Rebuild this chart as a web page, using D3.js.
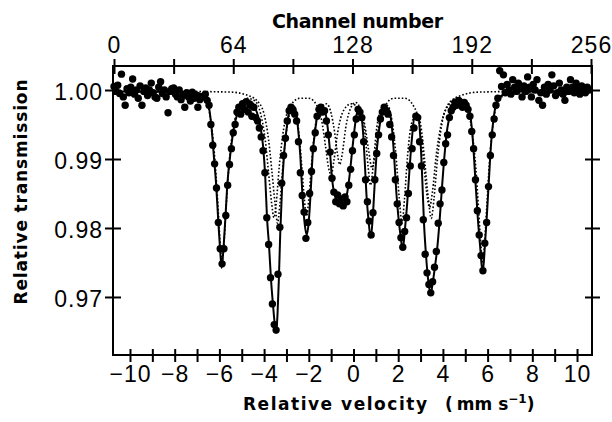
<!DOCTYPE html>
<html>
<head>
<meta charset="utf-8">
<script src="https://cdn.jsdelivr.net/npm/d3@7"></script>
<style>
  html, body { margin: 0; padding: 0; background: #fff; }
  svg { display: block; }
  .tick text { font-family: "Liberation Sans", Arial, sans-serif; font-size: 23px; fill: #000; letter-spacing: 1px; }
  .title { font-family: "DejaVu Sans", sans-serif; font-weight: bold; fill: #000; }
</style>
</head>
<body>
<div id="chart"></div>
<script>
// Relative transmission per channel (0..255)
const transmission = [
  1.0005, 0.9998, 1.0007, 0.9995, 1.0023, 0.9990, 0.9978, 1.0002, 0.9996, 1.0004, 1.0016, 0.9994, 1.0000, 0.9988, 1.0006, 0.9978,
  0.9998, 1.0003, 0.9992, 1.0000, 1.0010, 0.9996, 0.9990, 0.9988, 1.0004, 1.0012, 0.9995, 1.0000, 0.9990, 0.9967, 0.9998, 1.0002,
  1.0003, 0.9994, 0.9990, 1.0000, 0.9986, 0.9992, 0.9975, 0.9996, 0.9990, 0.9984, 0.9997, 0.9988, 0.9992, 0.9975, 0.9986, 0.9990,
  0.9990, 0.9994, 0.9985, 0.9978, 0.9950, 0.9920, 0.9893, 0.9858, 0.9808, 0.9770, 0.9748, 0.9770, 0.9818, 0.9862, 0.9892, 0.9915,
  0.9938, 0.9950, 0.9968, 0.9975, 0.9965, 0.9980, 0.9972, 0.9983, 0.9968, 0.9978, 0.9962, 0.9975, 0.9960, 0.9955, 0.9945, 0.9932,
  0.9912, 0.9880, 0.9815, 0.9776, 0.9728, 0.9690, 0.9660, 0.9652, 0.9733, 0.9801, 0.9865, 0.9905, 0.9930, 0.9955, 0.9970, 0.9975,
  0.9972, 0.9965, 0.9955, 0.9925, 0.9880, 0.9847, 0.9823, 0.9785, 0.9808, 0.9850, 0.9882, 0.9915, 0.9938, 0.9962, 0.9972, 0.9975,
  0.9968, 0.9970, 0.9955, 0.9935, 0.9910, 0.9872, 0.9852, 0.9838, 0.9848, 0.9835, 0.9842, 0.9832, 0.9845, 0.9838, 0.9862, 0.9885,
  0.9912, 0.9935, 0.9958, 0.9972, 0.9968, 0.9960, 0.9925, 0.9870, 0.9838, 0.9810, 0.9790, 0.9822, 0.9870, 0.9908, 0.9935, 0.9958,
  0.9968, 0.9975, 0.9970, 0.9965, 0.9950, 0.9932, 0.9905, 0.9870, 0.9835, 0.9808, 0.9786, 0.9772, 0.9795, 0.9815, 0.9850, 0.9890,
  0.9915, 0.9945, 0.9962, 0.9960, 0.9925, 0.9890, 0.9812, 0.9762, 0.9735, 0.9718, 0.9706, 0.9722, 0.9743, 0.9766, 0.9807, 0.9835,
  0.9855, 0.9895, 0.9922, 0.9935, 0.9960, 0.9970, 0.9975, 0.9982, 0.9978, 0.9985, 0.9980, 0.9975, 0.9982, 0.9978, 0.9972, 0.9962,
  0.9940, 0.9915, 0.9870, 0.9825, 0.9790, 0.9760, 0.9738, 0.9778, 0.9808, 0.9860, 0.9905, 0.9935, 0.9958, 0.9978, 0.9988, 1.0028,
  1.0005, 1.0022, 0.9996, 1.0008, 1.0000, 0.9994, 1.0015, 1.0004, 0.9998, 1.0010, 1.0002, 0.9990, 1.0006, 0.9998, 1.0019, 1.0004,
  0.9990, 1.0008, 1.0000, 1.0015, 0.9985, 0.9996, 0.9978, 1.0004, 0.9994, 1.0008, 1.0000, 1.0022, 1.0006, 0.9992, 0.9996, 1.0010,
  1.0000, 0.9994, 0.9985, 1.0004, 0.9998, 1.0015, 1.0004, 0.9996, 1.0010, 1.0002, 0.9994, 1.0006, 0.9998, 0.9996, 1.0004, 1.0000
];

// Fitted total spectrum, [velocity, transmission]
const fitTotal = [
  [-10.76, 0.9998], [-7.2, 0.9997], [-6.8, 0.9994], [-6.6, 0.9988], [-6.45, 0.9972], [-6.35, 0.9945],
  [-6.25, 0.9905], [-6.15, 0.9865], [-6.05, 0.9810], [-5.96, 0.9765], [-5.9, 0.9742], [-5.83, 0.9765],
  [-5.74, 0.9810], [-5.64, 0.9865], [-5.5, 0.9910], [-5.35, 0.9945], [-5.15, 0.9970], [-4.9, 0.9982],
  [-4.65, 0.9984], [-4.42, 0.9976], [-4.22, 0.9955], [-4.05, 0.9920], [-3.95, 0.9875], [-3.87, 0.9815],
  [-3.78, 0.9775], [-3.69, 0.9725], [-3.6, 0.9688], [-3.52, 0.9660], [-3.46, 0.9648], [-3.4, 0.9675],
  [-3.34, 0.9725], [-3.28, 0.9790], [-3.2, 0.9855], [-3.1, 0.9910], [-2.95, 0.9955], [-2.78, 0.9978],
  [-2.62, 0.9974], [-2.5, 0.9950], [-2.38, 0.9905], [-2.28, 0.9845], [-2.18, 0.9805], [-2.09, 0.9790],
  [-2.0, 0.9810], [-1.92, 0.9850], [-1.83, 0.9905], [-1.7, 0.9945], [-1.5, 0.9975], [-1.32, 0.9974],
  [-1.18, 0.9952], [-1.07, 0.9918], [-0.97, 0.9875], [-0.86, 0.9850], [-0.72, 0.9840], [-0.58, 0.9845],
  [-0.44, 0.9838], [-0.3, 0.9848], [-0.18, 0.9875], [-0.05, 0.9915], [0.08, 0.9952], [0.2, 0.9972],
  [0.32, 0.9968], [0.42, 0.9942], [0.5, 0.9898], [0.58, 0.9848], [0.67, 0.9812], [0.77, 0.9786],
  [0.86, 0.9815], [0.95, 0.9865], [1.05, 0.9915], [1.2, 0.9955], [1.4, 0.9976], [1.6, 0.9970],
  [1.72, 0.9945], [1.82, 0.9902], [1.92, 0.9850], [2.02, 0.9812], [2.12, 0.9785], [2.2, 0.9768],
  [2.3, 0.9798], [2.4, 0.9835], [2.5, 0.9882], [2.6, 0.9925], [2.75, 0.9962], [2.9, 0.9960],
  [3.0, 0.9925], [3.08, 0.9868], [3.15, 0.9810], [3.25, 0.9758], [3.35, 0.9722], [3.45, 0.9705],
  [3.55, 0.9722], [3.65, 0.9745], [3.75, 0.9772], [3.85, 0.9810], [3.95, 0.9855], [4.07, 0.9905],
  [4.2, 0.9945], [4.4, 0.9972], [4.7, 0.9985], [5.0, 0.9984], [5.2, 0.9968], [5.32, 0.9935],
  [5.4, 0.9898], [5.47, 0.9860], [5.56, 0.9815], [5.66, 0.9775], [5.78, 0.9735], [5.88, 0.9775],
  [5.97, 0.9820], [6.05, 0.9865], [6.15, 0.9920], [6.28, 0.9962], [6.45, 0.9985], [6.8, 0.9995],
  [7.5, 0.9998], [10.67, 0.9998]
];

// Sub-spectrum A (outer sextet), dotted
const fitSiteA = [
  [-10.76, 0.9998], [-7.2, 0.9996], [-6.75, 0.9991], [-6.5, 0.9975], [-6.32, 0.9940], [-6.18, 0.9890],
  [-6.05, 0.9825], [-5.95, 0.9770], [-5.88, 0.9752], [-5.8, 0.9775], [-5.7, 0.9830], [-5.56, 0.9895],
  [-5.38, 0.9945], [-5.1, 0.9975], [-4.75, 0.9988], [-4.4, 0.9984], [-4.15, 0.9965], [-3.95, 0.9928],
  [-3.8, 0.9880], [-3.66, 0.9835], [-3.56, 0.9815], [-3.46, 0.9835], [-3.32, 0.9890], [-3.12, 0.9945],
  [-2.8, 0.9978], [-2.4, 0.9988], [-2.0, 0.9988], [-1.65, 0.9978], [-1.42, 0.9955], [-1.25, 0.9918],
  [-1.12, 0.9888], [-1.0, 0.9877], [-0.88, 0.9897], [-0.7, 0.9940], [-0.45, 0.9970], [-0.1, 0.9980],
  [0.25, 0.9972], [0.5, 0.9950], [0.68, 0.9912], [0.82, 0.9887], [0.95, 0.9902], [1.12, 0.9945],
  [1.4, 0.9976], [1.8, 0.9988], [2.3, 0.9988], [2.7, 0.9976], [2.95, 0.9950], [3.12, 0.9902],
  [3.27, 0.9852], [3.4, 0.9830], [3.53, 0.9852], [3.7, 0.9905], [3.92, 0.9950], [4.25, 0.9978],
  [4.7, 0.9988], [5.05, 0.9978], [5.3, 0.9940], [5.47, 0.9888], [5.6, 0.9825], [5.7, 0.9775],
  [5.78, 0.9750], [5.86, 0.9775], [5.96, 0.9830], [6.08, 0.9895], [6.25, 0.9952], [6.5, 0.9986],
  [7.0, 0.9995], [10.67, 0.9998]
];

// Sub-spectrum B (inner sextet), dotted
const fitSiteB = [
  [-10.76, 0.9999], [-5.5, 0.9997], [-4.8, 0.9993], [-4.3, 0.9984], [-4.0, 0.9965], [-3.8, 0.9928],
  [-3.65, 0.9882], [-3.5, 0.9832], [-3.4, 0.9807], [-3.3, 0.9832], [-3.18, 0.9882], [-3.02, 0.9935],
  [-2.8, 0.9968], [-2.6, 0.9966], [-2.45, 0.9940], [-2.32, 0.9892], [-2.2, 0.9842], [-2.1, 0.9817],
  [-2.0, 0.9842], [-1.88, 0.9892], [-1.72, 0.9945], [-1.5, 0.9974], [-1.2, 0.9980], [-1.0, 0.9966],
  [-0.85, 0.9940], [-0.72, 0.9908], [-0.62, 0.9892], [-0.5, 0.9908], [-0.35, 0.9945], [-0.15, 0.9972],
  [0.1, 0.9982], [0.35, 0.9968], [0.52, 0.9935], [0.65, 0.9890], [0.76, 0.9862], [0.88, 0.9890],
  [1.02, 0.9940], [1.25, 0.9972], [1.5, 0.9978], [1.72, 0.9956], [1.9, 0.9905], [2.05, 0.9842],
  [2.17, 0.9807], [2.28, 0.9842], [2.42, 0.9905], [2.6, 0.9952], [2.85, 0.9966], [3.05, 0.9940],
  [3.2, 0.9892], [3.35, 0.9842], [3.48, 0.9814], [3.6, 0.9842], [3.75, 0.9898], [3.95, 0.9950],
  [4.3, 0.9982], [4.9, 0.9993], [5.6, 0.9997], [10.67, 0.9999]
];

const channelTicks = [0, 32, 64, 96, 128, 160, 192, 224, 256];
const channelLabels = [0, 64, 128, 192, 256];
const velocityTicks = [-10, -9, -8, -7, -6, -5, -4, -3, -2, -1, 0, 1, 2, 3, 4, 5, 6, 7, 8, 9, 10];
const velocityLabels = [-10, -8, -6, -4, -2, 0, 2, 4, 6, 8, 10];
const transmissionTicks = [0.97, 0.98, 0.99, 1.00];

const width = 612;
const height = 422;
const frame = { left: 113, right: 592, top: 66, bottom: 355 };

const svg = d3.select('#chart')
  .append('svg')
  .attr('width', width)
  .attr('height', height);

const xVel = d3.scaleLinear()
  .domain([-10.76, 10.67])
  .range([frame.left, frame.right]);

const xChan = d3.scaleLinear()
  .domain([0, 256])
  .range([114, 591]);

const y = d3.scaleLinear()
  .domain([0.96159, 1.00348])
  .range([frame.bottom, frame.top]);

// Frame
svg.append('rect')
  .attr('x', frame.left)
  .attr('y', frame.top)
  .attr('width', frame.right - frame.left)
  .attr('height', frame.bottom - frame.top)
  .attr('fill', 'none')
  .attr('stroke', '#000')
  .attr('stroke-width', 2);

function styleTicks(g, x1, x2, y1, y2) {
  g.select('.domain').remove();
  g.selectAll('.tick line')
    .attr('stroke', '#000')
    .attr('stroke-width', 2)
    .attr('x1', x1).attr('x2', x2)
    .attr('y1', y1).attr('y2', y2);
}

// Bottom: velocity
const fmtInt = d3.format('d');
const gBottom = svg.append('g')
  .attr('transform', `translate(0,${frame.bottom})`)
  .call(d3.axisBottom(xVel)
    .tickValues(velocityTicks)
    .tickSize(0)
    .tickFormat(d => velocityLabels.includes(d) ? fmtInt(d) : ''));
styleTicks(gBottom, 0, 0, -6, 7);
gBottom.selectAll('.tick text').attr('y', 27).attr('dy', null);

// Top: channel number
const gTop = svg.append('g')
  .attr('transform', `translate(0,${frame.top})`)
  .call(d3.axisTop(xChan)
    .tickValues(channelTicks)
    .tickSize(0)
    .tickFormat(d => channelLabels.includes(d) ? d : ''));
styleTicks(gTop, 0, 0, -7, 8);
gTop.selectAll('.tick text').attr('y', -13).attr('dy', null);

// Left: relative transmission
const gLeft = svg.append('g')
  .attr('transform', `translate(${frame.left},0)`)
  .call(d3.axisLeft(y)
    .tickValues(transmissionTicks)
    .tickSize(0)
    .tickFormat(d3.format('.2f')));
styleTicks(gLeft, -8, 8, 0, 0);
gLeft.selectAll('.tick text').attr('x', -10).attr('dy', '0.43em');

// Right: ticks only
const gRight = svg.append('g')
  .attr('transform', `translate(${frame.right},0)`)
  .call(d3.axisRight(y)
    .tickValues(transmissionTicks)
    .tickSize(0)
    .tickFormat(''));
styleTicks(gRight, -7, 8, 0, 0);

// Fitted curves
const line = d3.line()
  .x(d => xVel(d[0]))
  .y(d => y(d[1]))
  .curve(d3.curveMonotoneX);

[fitSiteA, fitSiteB].forEach(sub => {
  svg.append('path')
    .datum(sub)
    .attr('fill', 'none')
    .attr('stroke', '#000')
    .attr('stroke-width', 1.6)
    .attr('stroke-dasharray', '1.6,2')
    .attr('d', line);
});

svg.append('path')
  .datum(fitTotal)
  .attr('fill', 'none')
  .attr('stroke', '#000')
  .attr('stroke-width', 2)
  .attr('d', line);

// Data points
svg.append('g')
  .selectAll('circle')
  .data(transmission)
  .join('circle')
  .attr('cx', (d, i) => xChan(i))
  .attr('cy', d => y(d))
  .attr('r', 3.7)
  .attr('fill', '#000');

// Titles
svg.append('text')
  .attr('class', 'title')
  .attr('x', 272)
  .attr('y', 28)
  .attr('font-size', 19)
  .attr('textLength', 171)
  .attr('lengthAdjust', 'spacing')
  .text('Channel number');

svg.append('text')
  .attr('class', 'title')
  .attr('x', 243)
  .attr('y', 410)
  .attr('font-size', 17)
  .attr('textLength', 184)
  .attr('lengthAdjust', 'spacing')
  .text('Relative velocity');

const unit = svg.append('text')
  .attr('class', 'title')
  .attr('x', 445)
  .attr('y', 410)
  .attr('font-size', 17);
unit.append('tspan').text('(');
unit.append('tspan').attr('dx', 4).text('mm s');
unit.append('tspan').attr('dy', -7).attr('font-size', 12).text('\u22121');
unit.append('tspan').attr('dy', 7).text(')');

svg.append('text')
  .attr('class', 'title')
  .attr('transform', 'translate(27,192) rotate(-90)')
  .attr('text-anchor', 'middle')
  .attr('font-size', 17)
  .attr('textLength', 225)
  .attr('lengthAdjust', 'spacing')
  .text('Relative transmission');
</script>
</body>
</html>
